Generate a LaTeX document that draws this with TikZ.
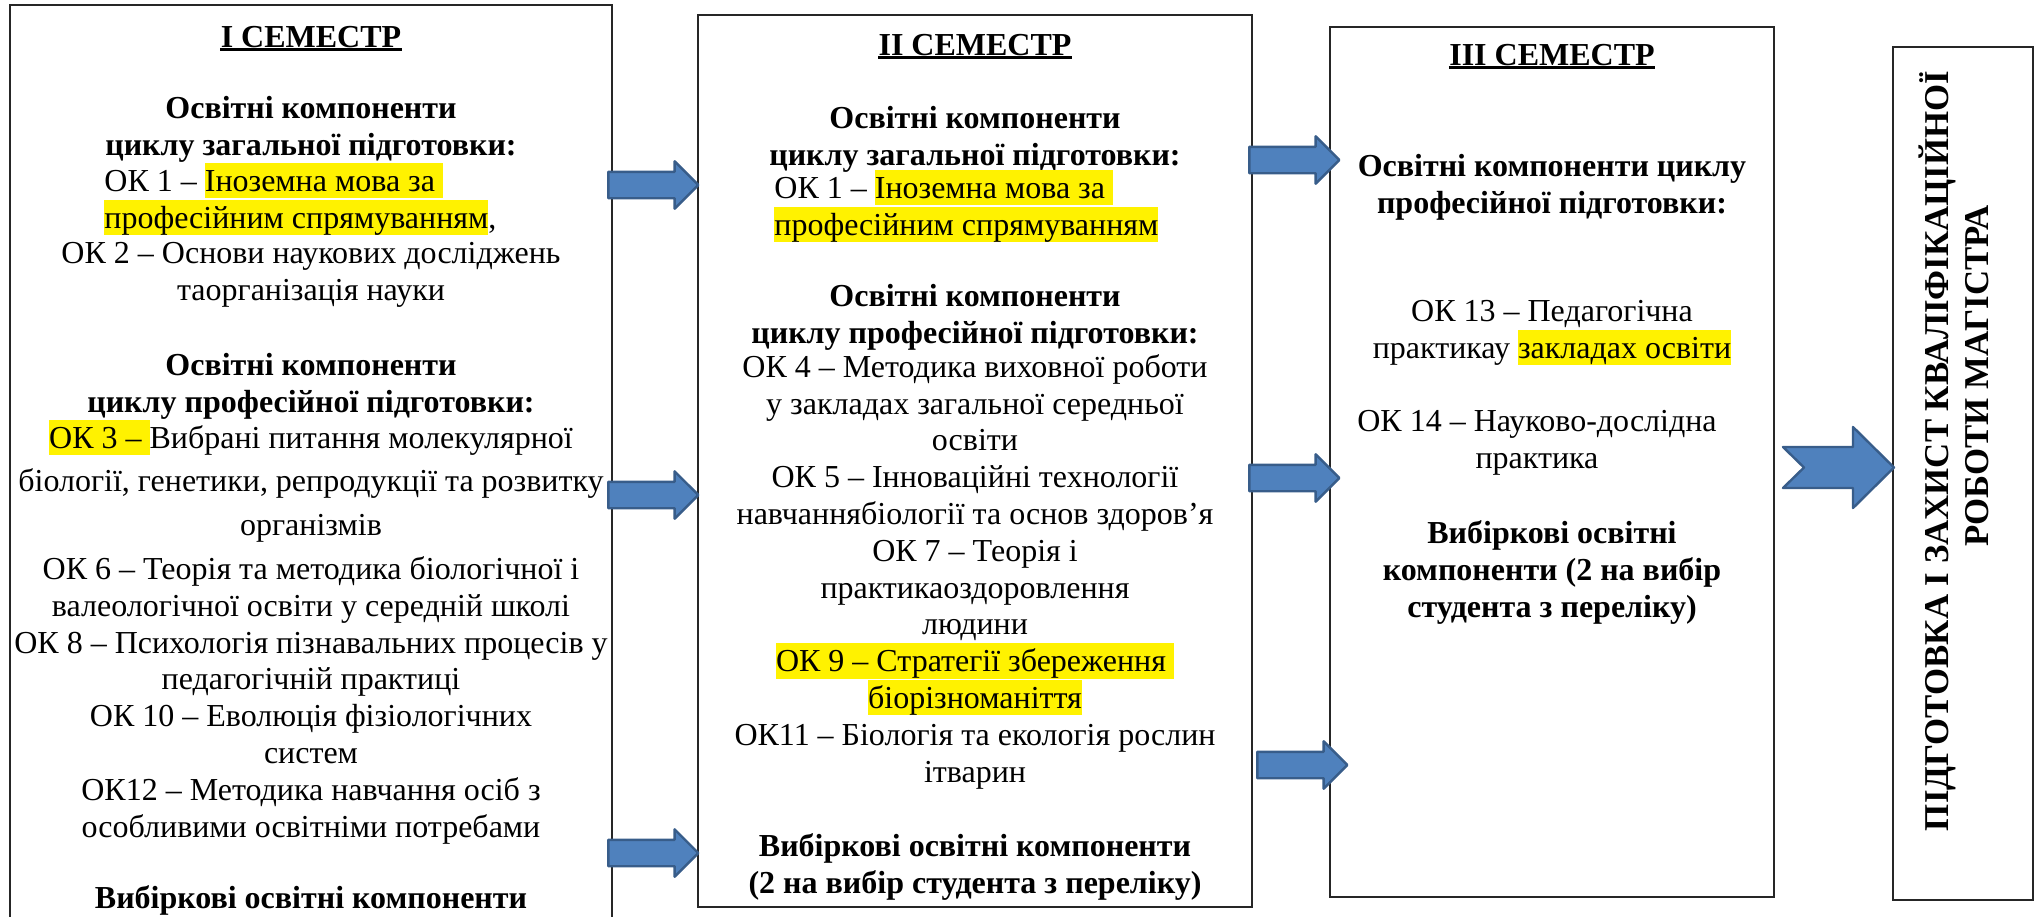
\documentclass[tikz,border=0pt]{standalone}
\usepackage{fontspec}
\setmainfont{Liberation Serif}
\usetikzlibrary{positioning, shapes.arrows}

\definecolor{arrowfill}{HTML}{4F81BD}
\definecolor{arrowline}{HTML}{385D8A}
\newcommand{\hl}[1]{{\setlength{\fboxsep}{0pt}\colorbox{yellow}{\vrule height .89em depth .22em width 0pt #1}}}

\tikzset{
  sembox/.style={draw=black!85, line width=0.7pt, inner sep=0pt},
  txt/.style={inner sep=0pt, align=center, anchor=base, font=\fontsize{16}{18.4}\selectfont},
  boldtxt/.style={txt, font=\fontsize{16}{18.4}\selectfont\bfseries},
  ttl/.style={boldtxt},
  lft/.style={txt, align=left, anchor=base west},
  vert/.style={boldtxt, rotate=90, font=\fontsize{17.4}{20}\selectfont\bfseries},
  ul/.style={line width=1.3pt},
  blockarrow/.style={single arrow, draw=arrowline, fill=arrowfill, line width=1.2pt, line join=round,
    inner xsep=0pt, inner ysep=6pt, minimum height=45pt, single arrow head extend=5.25pt},
}

\begin{document}
\begin{tikzpicture}[x=0.5pt, y=-0.5pt]
\useasboundingbox (0,0) rectangle (2040,916);
\clip (0,0) rectangle (2040,916);
% boxes %
\node[sembox, minimum width=301pt, minimum height=477.5pt] (sem1) at (311,482.5) {};
\node[sembox, minimum width=277pt, minimum height=446pt] (sem2) at (975,461) {};
\node[sembox, minimum width=222pt, minimum height=435pt] (sem3) at (1552,462) {};
\node[sembox, minimum width=70pt, minimum height=426.5pt] (final) at (1963,473.5) {};
% I semester (y = baseline of last line) %
\node[ttl] (t1) at (311,47) {I СЕМЕСТР};
\node[boldtxt] (g1) at (311,155) {Освітні компоненти\\циклу загальної підготовки:};
\node[lft] (ok1a) at (104,228) {ОК 1 – \hl{Іноземна мова за }\\\hl{професійним спрямуванням},};
\node[txt] (ok2) at (311,300) {ОК 2 – Основи наукових досліджень\\таорганізація науки};
\node[boldtxt] (p1) at (311,412) {Освітні компоненти\\циклу професійної підготовки:};
\node[txt, font=\fontsize{16}{21.75}\selectfont] (ok3) at (311,535) {\hl{ОК 3 – }Вибрані питання молекулярної\\біології, генетики, репродукції та розвитку\\організмів};
\node[txt] (ok6) at (311,837) {ОК 6 – Теорія та методика біологічної і\\валеологічної освіти у середній школі\\ОК 8 – Психологія пізнавальних процесів у\\педагогічній практиці\\ОК 10 – Еволюція фізіологічних\\систем\\ОК12 – Методика навчання осіб з\\особливими освітніми потребами};
\node[boldtxt] (v1) at (311,908) {Вибіркові освітні компоненти};
% II semester %
\node[ttl] (t2) at (975,55) {II СЕМЕСТР};
\node[boldtxt] (g2) at (975,165) {Освітні компоненти\\циклу загальної підготовки:};
\node[lft] (ok1b) at (774,235) {ОК 1 – \hl{Іноземна мова за }\\\hl{професійним спрямуванням}};
\node[boldtxt] (p2) at (975,343) {Освітні компоненти\\циклу професійної підготовки:};
\node[txt] (ok4) at (975,782) {ОК 4 – Методика виховної роботи\\у закладах загальної середньої\\освіти\\ОК 5 – Інноваційні технології\\навчаннябіології та основ здоров’я\\ОК 7 – Теорія і\\практикаоздоровлення\\людини\\\hl{ОК 9 – Стратегії збереження }\\\hl{біорізноманіття}\\ОК11 – Біологія та екологія рослин\\ітварин};
\node[boldtxt] (v2) at (975,893) {Вибіркові освітні компоненти\\(2 на вибір студента з переліку)};
% III semester %
\node[ttl] (t3) at (1552,65) {III СЕМЕСТР};
\node[boldtxt] (p3) at (1552,213) {Освітні компоненти циклу\\професійної підготовки:};
\node[txt] (ok13) at (1552,358) {ОК 13 – Педагогічна\\практикау \hl{закладах освіти}};
\node[txt] (ok14) at (1537,468) {ОК 14 – Науково-дослідна\\практика};
\node[boldtxt] (v3) at (1552,617) {Вибіркові освітні\\компоненти (2 на вибір\\студента з переліку)};
% final box %
\node[vert] (f1) at (1948,451) {ПІДГОТОВКА І ЗАХИСТ КВАЛІФІКАЦІЙНОЇ};
\node[vert] (f2) at (1988,376) {РОБОТИ МАГІСТРА};
% underlines %
\foreach \t in {t1,t2,t3}
  \draw[ul] ([yshift=-1.3pt]\t.base west) -- ([yshift=-1.3pt]\t.base east);
% arrows %
\foreach \y in {185,495,853}
  \node[blockarrow, anchor=tip] (a\y) at (700,\y) {};
\node[blockarrow, anchor=tip] (b1) at (1341,160) {};
\node[blockarrow, anchor=tip] (b2) at (1341,478) {};
\node[blockarrow, anchor=tip] (b3) at (1349,765) {};
\filldraw[fill=arrowfill, draw=arrowline, line width=1.2pt, line join=round]
  (1783,447) -- (1853,447) -- (1853,427) -- (1894,467.5) -- (1853,508)
  -- (1853,488) -- (1783,488) -- (1804,467.5) -- cycle;
\end{tikzpicture}
\end{document}
